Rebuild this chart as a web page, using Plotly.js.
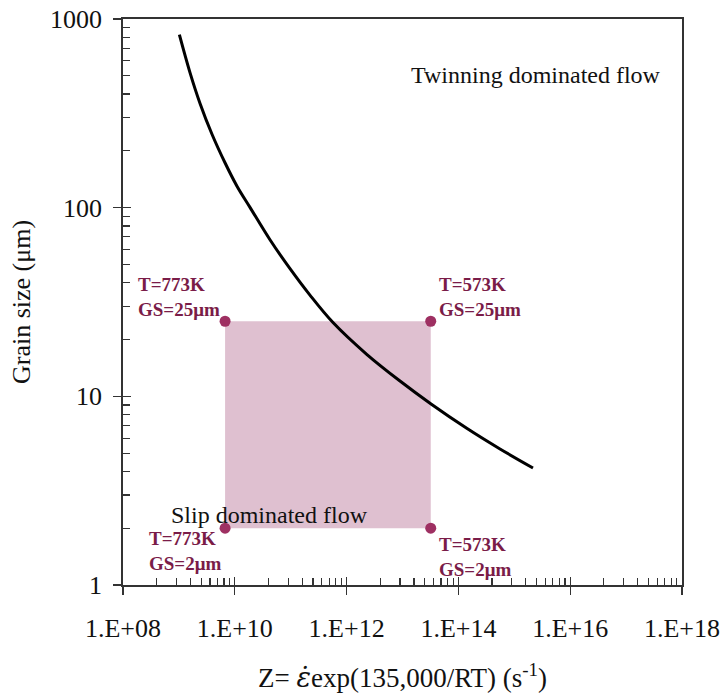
<!DOCTYPE html>
<html>
<head>
<meta charset="utf-8">
<script src="https://cdn.plot.ly/plotly-3.0.1.min.js"></script>
<style>html,body{margin:0;padding:0;background:#fff;}#chart{width:723px;height:697px;}</style>
</head>
<body>
<div id="chart"></div>
<script>
// Boundary curve between twinning- and slip-dominated flow
const curveZ = [1.02e9, 1.58e9, 2.38e9, 3.91e9, 6.68e9, 1.095e10, 1.87e10, 4.26e10, 9.72e10, 2.21e11, 5.71e11, 2.29e12, 9.02e12, 3.24e13, 1.41e14, 5.55e14, 2.16e15];
const curveGS = [826, 520, 358, 245, 173, 130, 100.4, 67.6, 47.5, 34.4, 24.6, 16.7, 12.05, 9.11, 6.77, 5.26, 4.17];

// Processing window corners
const cornerZ = [6.7e9, 3.2e13, 3.2e13, 6.7e9];
const cornerGS = [25, 25, 2, 2];
const cornerLabels = ["T=773K<br>GS=25μm", "T=573K<br>GS=25μm", "T=573K<br>GS=2μm", "T=773K<br>GS=2μm"];

// Axis ticks
const xTickVals = [1e8, 1e10, 1e12, 1e14, 1e16, 1e18];
const xTickText = ["1.E+08", "1.E+10", "1.E+12", "1.E+14", "1.E+16", "1.E+18"];
const yTickVals = [1, 10, 100, 1000];
const yTickText = ["1", "10", "100", "1000"];

const xMinor = [];
[8, 10, 12, 14, 16].forEach(n => { for (let k = 2; k <= 9; k++) xMinor.push(k * k * Math.pow(10, n)); });
const yMinor = [];
[0, 1, 2].forEach(n => { for (let k = 2; k <= 9; k++) yMinor.push(k * Math.pow(10, n)); });

const serif = "Liberation Serif, Times New Roman, serif";
const labelColor = "rgb(122,28,72)";

const traces = [
  {
    x: cornerZ.concat([cornerZ[0]]), y: cornerGS.concat([cornerGS[0]]),
    type: "scatter", mode: "lines", fill: "toself",
    fillcolor: "rgb(223,192,208)", line: {width: 0, color: "rgba(0,0,0,0)"},
    hoverinfo: "skip", showlegend: false
  },
  {
    x: curveZ, y: curveGS, type: "scatter", mode: "lines",
    line: {color: "#000", width: 3, shape: "spline", smoothing: 1},
    showlegend: false
  },
  {
    x: cornerZ, y: cornerGS, type: "scatter", mode: "markers",
    marker: {color: "rgb(158,48,98)", size: 11},
    showlegend: false
  },
  {x: [], y: [], xaxis: "x2", yaxis: "y2", type: "scatter", showlegend: false}
];

const axLine = "#333";
const layout = {
  width: 723, height: 697,
  margin: {l: 123, r: 41, t: 19, b: 112},
  paper_bgcolor: "#fff", plot_bgcolor: "#fff",
  font: {family: serif, color: "#111", size: 24},
  showlegend: false,
  xaxis: {
    type: "log", range: [8, 18],
    tickmode: "array", tickvals: xTickVals, ticktext: xTickText,
    ticks: "outside", ticklen: 8, tickwidth: 1.3, tickcolor: axLine,
    ticklabelstandoff: 11,
    minor: {tickmode: "array", tickvals: xMinor, ticks: "inside", ticklen: 7, tickwidth: 1.2, tickcolor: axLine, showgrid: false},
    showline: true, linecolor: axLine, linewidth: 1.8, mirror: true,
    showgrid: false, zeroline: false,
    tickfont: {family: serif, size: 26, color: "#111"},
    title: {text: "Z= <span style=\"font-family:DejaVu Serif\"><i>ε\u0307</i></span>exp(135,000/RT) (s<sup>-1</sup>)", font: {family: serif, size: 27, color: "#111"}, standoff: 26}
  },
  yaxis: {
    type: "log", range: [0, 3],
    tickmode: "array", tickvals: yTickVals, ticktext: yTickText,
    ticks: "outside", ticklen: 8, tickwidth: 1.3, tickcolor: axLine,
    ticklabelstandoff: 6,
    minor: {tickmode: "array", tickvals: yMinor, ticks: "inside", ticklen: 7, tickwidth: 1.2, tickcolor: axLine, showgrid: false},
    showline: true, linecolor: axLine, linewidth: 1.8, mirror: true,
    showgrid: false, zeroline: false,
    tickfont: {family: serif, size: 26, color: "#111"},
    title: {text: "Grain size (μm)", font: {family: serif, size: 26, color: "#111"}, standoff: 12}
  },
  xaxis2: {
    type: "log", range: [8, 18], overlaying: "x", anchor: "y2", side: "bottom",
    tickmode: "array", tickvals: xTickVals, ticks: "inside", ticklen: 8, tickwidth: 1.3, tickcolor: axLine,
    showticklabels: false, showline: false, showgrid: false, zeroline: false
  },
  yaxis2: {
    type: "log", range: [0, 3], overlaying: "y", anchor: "x2", side: "left",
    tickmode: "array", tickvals: yTickVals, ticks: "inside", ticklen: 8, tickwidth: 1.3, tickcolor: axLine,
    showticklabels: false, showline: false, showgrid: false, zeroline: false
  },
  annotations: [
    {xref: "paper", yref: "paper", x: 0.7385, y: 0.901, xanchor: "center", yanchor: "middle",
     text: "Twinning dominated flow", showarrow: false, font: {family: serif, size: 24, color: "#111"}},
    {xref: "paper", yref: "paper", x: 0.2615, y: 0.1237, xanchor: "center", yanchor: "middle",
     text: "Slip dominated flow", showarrow: false, font: {family: serif, size: 24, color: "#111"}},
    {xref: "paper", yref: "paper", x: 0.0225, y: 0.5085, xanchor: "left", yanchor: "middle", align: "left",
     text: "<b>" + cornerLabels[0].replace("<br>", "</b><br><b>") + "</b>", showarrow: false, font: {family: serif, size: 19, color: labelColor}},
    {xref: "paper", yref: "paper", x: 0.562, y: 0.5085, xanchor: "left", yanchor: "middle", align: "left",
     text: "<b>" + cornerLabels[1].replace("<br>", "</b><br><b>") + "</b>", showarrow: false, font: {family: serif, size: 19, color: labelColor}},
    {xref: "paper", yref: "paper", x: 0.561, y: 0.0495, xanchor: "left", yanchor: "middle", align: "left",
     text: "<b>" + cornerLabels[2].replace("<br>", "</b><br><b>") + "</b>", showarrow: false, font: {family: serif, size: 19, color: labelColor}},
    {xref: "paper", yref: "paper", x: 0.0433, y: 0.060, xanchor: "left", yanchor: "middle", align: "left",
     text: "<b>" + cornerLabels[3].replace("<br>", "</b><br><b>") + "</b>", showarrow: false, font: {family: serif, size: 19, color: labelColor}}
  ]
};

Plotly.newPlot("chart", traces, layout, {staticPlot: true, displayModeBar: false});
</script>
</body>
</html>
